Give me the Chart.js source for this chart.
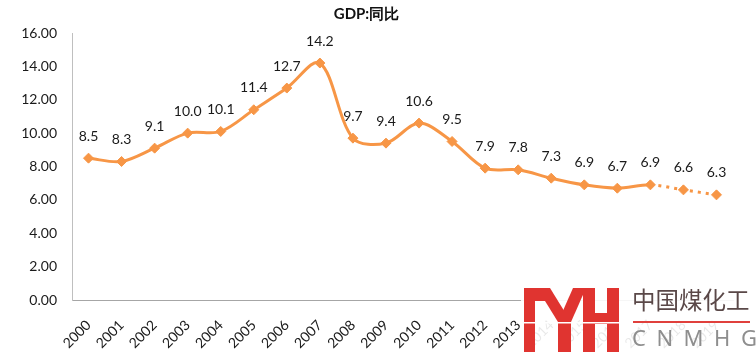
<!DOCTYPE html>
<html>
<head>
<meta charset="utf-8">
<script src="https://cdn.jsdelivr.net/npm/chart.js@4/dist/chart.umd.min.js"></script>
<style>
  html, body { margin: 0; padding: 0; background: #fff; }
  #wrap { position: relative; width: 756px; height: 360px; }
  #logo { position: absolute; left: 521px; top: 284px; width: 235px; height: 76px; background: rgba(255,255,255,0.9); }
  #logo svg { position: absolute; left: 0; top: 0; }
  #cn { position: absolute; left: 111px; top: 1px; font: 23.5px "Noto Sans CJK SC", sans-serif; color: #5a4848; line-height: 28px; white-space: nowrap; }
  #rule { position: absolute; left: 112px; top: 37px; width: 117px; height: 2px; background: #e0403c; }
  #en { position: absolute; left: 111px; top: 39px; font: 22px "Noto Sans", sans-serif; color: #8e8e8e; letter-spacing: 10.5px; line-height: 28px; white-space: nowrap; }
</style>
</head>
<body>
<div id="wrap">
  <canvas id="c" width="756" height="360"></canvas>
  <div id="logo">
    <svg width="100" height="76" viewBox="521 284 100 76">
      <g fill="#e03430">
        <rect x="524" y="288" width="11" height="64"/>
        <rect x="524" y="288" width="24" height="13"/>
        <polygon points="537,288 550,288 571,322 558,322"/>
        <polygon points="573,288 586,288 571,322 558,322"/>
        <rect x="558" y="312" width="13" height="40"/>
        <rect x="583" y="288" width="12" height="64"/>
        <rect x="607" y="288" width="12" height="64"/>
        <rect x="594" y="313" width="14" height="11"/>
      </g>
      <rect x="521" y="322" width="100" height="1.5" fill="#fff"/>
    </svg>
    <div id="cn">中国煤化工</div>
    <div id="rule"></div>
    <div id="en">CNMHG</div>
  </div>
</div>
<script>
const years = ["2000","2001","2002","2003","2004","2005","2006","2007","2008","2009","2010","2011","2012","2013","2014","2015","2016","2017","2018","2019"];
const gdpYoY = [8.5, 8.3, 9.1, 10.0, 10.1, 11.4, 12.7, 14.2, 9.7, 9.4, 10.6, 9.5, 7.9, 7.8, 7.3, 6.9, 6.7, 6.9, 6.6, 6.3];
const forecastFrom = 17; // segments after this index are dotted
const chartTitle = "GDP:同比";

const ORANGE = "#F79646";
const FONT = "Lato, 'Noto Sans', sans-serif";

const valueLabels = {
  id: "valueLabels",
  afterDatasetsDraw(chart) {
    const ctx = chart.ctx;
    const meta = chart.getDatasetMeta(0);
    ctx.save();
    ctx.font = "14px " + FONT;
    ctx.fillStyle = "#1a1a1a";
    ctx.textAlign = "center";
    ctx.textBaseline = "middle";
    meta.data.forEach((pt, i) => {
      ctx.fillText(gdpYoY[i].toFixed(1), pt.x, pt.y - 22);
    });
    ctx.restore();
  }
};

new Chart(document.getElementById("c"), {
  type: "line",
  data: {
    labels: years,
    datasets: [{
      data: gdpYoY,
      borderColor: ORANGE,
      backgroundColor: ORANGE,
      borderWidth: 3,
      tension: 0.33,
      pointStyle: "rectRot",
      pointRadius: 5,
      pointHoverRadius: 5,
      pointBackgroundColor: ORANGE,
      pointBorderColor: ORANGE,
      pointBorderWidth: 1,
      fill: false,
      segment: {
        borderDash: ctx => ctx.p0DataIndex >= forecastFrom ? [3, 5] : undefined
      }
    }]
  },
  options: {
    responsive: false,
    animation: false,
    events: [],
    layout: { padding: { left: 0, right: 23, top: 0, bottom: 0 } },
    plugins: {
      legend: { display: false },
      tooltip: { enabled: false },
      title: {
        display: true,
        text: chartTitle,
        color: "#111",
        font: { family: FONT, size: 15, weight: "bold", lineHeight: 1.2 },
        padding: { top: 5, bottom: 10 }
      }
    },
    scales: {
      x: {
        offset: true,
        grid: { display: false, drawTicks: false },
        border: { display: true, color: "#a6a6a6", width: 1 },
        ticks: {
          color: "#1a1a1a",
          font: { family: FONT, size: 14 },
          minRotation: 45,
          maxRotation: 45,
          autoSkip: false,
          padding: 17
        },
        afterFit(s) { s.height = 60; }
      },
      y: {
        min: 0,
        max: 16,
        grid: { display: false, drawTicks: false },
        border: { display: true, color: "#bfbfbf", width: 1 },
        ticks: {
          stepSize: 2,
          color: "#1a1a1a",
          font: { family: FONT, size: 14 },
          padding: 15,
          callback: v => Number(v).toFixed(2)
        },
        afterFit(s) { s.width = 72; }
      }
    }
  },
  plugins: [valueLabels]
});
</script>
</body>
</html>
